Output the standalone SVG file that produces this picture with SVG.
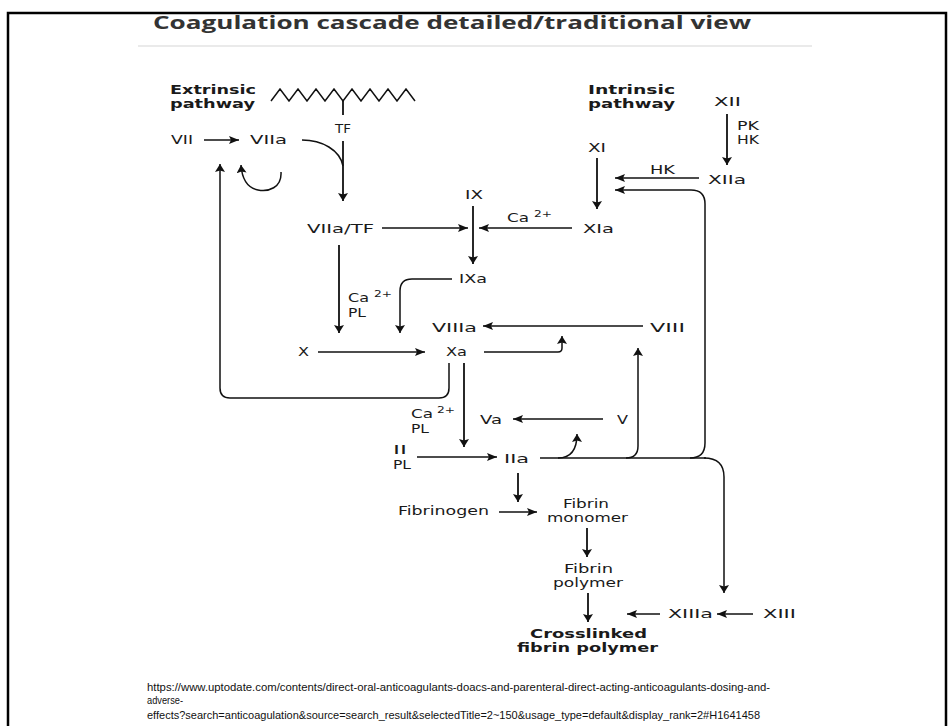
<svg xmlns="http://www.w3.org/2000/svg" width="952" height="726" viewBox="0 0 952 726">
<style>
.t{font-family:"DejaVu Sans","Liberation Sans",sans-serif;font-size:12px;fill:#1a1a1a}
.b{font-weight:bold}
.sup{font-family:"DejaVu Sans","Liberation Sans",sans-serif;font-size:9px;fill:#1a1a1a}
.c{fill:none;stroke:#111;stroke-width:1.5}
.v{stroke-width:1.8}
.u{font-family:"Liberation Sans",Arial,sans-serif;font-size:11px;fill:#111}
</style>
<defs>
<marker id="ah" viewBox="0 0 10 8" refX="10" refY="4" markerWidth="10" markerHeight="8" markerUnits="userSpaceOnUse" orient="auto"><path d="M0,0 L10,4 L0,8 L2,4 z" fill="#111"/></marker>
<marker id="av" viewBox="0 0 8 10" refX="8" refY="5" markerWidth="8" markerHeight="10" markerUnits="userSpaceOnUse" orient="auto"><path d="M0,0 L8,5 L0,10 L1.5,5 z" fill="#111"/></marker>
</defs>
<rect width="952" height="726" fill="#fff"/>
<path d="M8,726 V13 H946 V726" fill="none" stroke="#000" stroke-width="2.5"/>
<text x="153" y="29" textLength="598" lengthAdjust="spacingAndGlyphs" style="font-family:'Open Sans','Noto Sans',sans-serif;font-weight:bold;font-size:17px;fill:#333">Coagulation cascade detailed/traditional view</text>
<line x1="138" y1="46" x2="812" y2="46" stroke="#e3e3e3" stroke-width="1.5"/>

<g id="extrinsic"><text class="t b" x="170" y="94" textLength="86" lengthAdjust="spacingAndGlyphs">Extrinsic</text><text class="t b" x="170" y="108" textLength="85" lengthAdjust="spacingAndGlyphs">pathway</text></g>
<g id="membrane"><polyline class="c" points="271,101 280,89 289,101 298,89 307,101 316,89 325,101 334,89 343,101 352,89 361,101 370,89 379,101 388,89 397,101 406,89 415,101"/><line class="c v" x1="343" y1="101" x2="343" y2="115"/></g>
<g id="tf"><text class="t" x="335" y="133" textLength="16" lengthAdjust="spacingAndGlyphs">TF</text></g>
<g id="vii"><text class="t" x="171" y="144" textLength="22" lengthAdjust="spacingAndGlyphs">VII</text></g>
<g id="viia"><text class="t" x="250" y="144" textLength="37" lengthAdjust="spacingAndGlyphs">VIIa</text></g>
<g id="intrinsic"><text class="t b" x="588" y="94" textLength="87" lengthAdjust="spacingAndGlyphs">Intrinsic</text><text class="t b" x="588" y="108" textLength="87" lengthAdjust="spacingAndGlyphs">pathway</text></g>
<g id="xii"><text class="t" x="714" y="106" textLength="27" lengthAdjust="spacingAndGlyphs">XII</text></g>
<g id="pkhk"><text class="t" x="737" y="130" textLength="22" lengthAdjust="spacingAndGlyphs">PK</text><text class="t" x="737" y="144" textLength="22" lengthAdjust="spacingAndGlyphs">HK</text></g>
<g id="xi"><text class="t" x="588" y="152" textLength="18" lengthAdjust="spacingAndGlyphs">XI</text></g>
<g id="hk"><text class="t" x="650" y="174" textLength="25" lengthAdjust="spacingAndGlyphs">HK</text></g>
<g id="xiia"><text class="t" x="708" y="184" textLength="38" lengthAdjust="spacingAndGlyphs">XIIa</text></g>
<g id="ix"><text class="t" x="465" y="199" textLength="18" lengthAdjust="spacingAndGlyphs">IX</text></g>
<g id="viiatf"><text class="t" x="307" y="233" textLength="67" lengthAdjust="spacingAndGlyphs">VIIa/TF</text></g>
<g id="ca1"><text class="t" x="507" y="222" textLength="22" lengthAdjust="spacingAndGlyphs">Ca</text><text class="sup" x="534" y="217" textLength="18" lengthAdjust="spacingAndGlyphs">2+</text></g>
<g id="xia"><text class="t" x="583" y="233" textLength="31" lengthAdjust="spacingAndGlyphs">XIa</text></g>
<g id="ixa"><text class="t" x="459" y="283" textLength="28" lengthAdjust="spacingAndGlyphs">IXa</text></g>
<g id="ca2"><text class="t" x="348" y="302" textLength="21" lengthAdjust="spacingAndGlyphs">Ca</text><text class="sup" x="374" y="297" textLength="18" lengthAdjust="spacingAndGlyphs">2+</text><text class="t" x="348" y="317" textLength="18" lengthAdjust="spacingAndGlyphs">PL</text></g>
<g id="viiia"><text class="t" x="432" y="332" textLength="45" lengthAdjust="spacingAndGlyphs">VIIIa</text></g>
<g id="viii"><text class="t" x="650" y="332" textLength="35" lengthAdjust="spacingAndGlyphs">VIII</text></g>
<g id="x"><text class="t" x="298" y="356" textLength="11" lengthAdjust="spacingAndGlyphs">X</text></g>
<g id="xa"><text class="t" x="446" y="356" textLength="21" lengthAdjust="spacingAndGlyphs">Xa</text></g>
<g id="ca3"><text class="t" x="411" y="418" textLength="22" lengthAdjust="spacingAndGlyphs">Ca</text><text class="sup" x="437" y="413" textLength="18" lengthAdjust="spacingAndGlyphs">2+</text><text class="t" x="411" y="433" textLength="18" lengthAdjust="spacingAndGlyphs">PL</text></g>
<g id="va"><text class="t" x="480" y="424" textLength="22" lengthAdjust="spacingAndGlyphs">Va</text></g>
<g id="v"><text class="t" x="617" y="424" textLength="11" lengthAdjust="spacingAndGlyphs">V</text></g>
<g id="ii"><text class="t" x="393" y="454" textLength="14" lengthAdjust="spacingAndGlyphs">II</text><text class="t" x="393" y="469" textLength="18" lengthAdjust="spacingAndGlyphs">PL</text></g>
<g id="iia"><text class="t" x="504" y="463" textLength="25" lengthAdjust="spacingAndGlyphs">IIa</text></g>
<g id="fibrinogen"><text class="t" x="398" y="515" textLength="91" lengthAdjust="spacingAndGlyphs">Fibrinogen</text></g>
<g id="monomer"><text class="t" x="563" y="508" textLength="46" lengthAdjust="spacingAndGlyphs">Fibrin</text><text class="t" x="547" y="522" textLength="81" lengthAdjust="spacingAndGlyphs">monomer</text></g>
<g id="polymer"><text class="t" x="564" y="573" textLength="49" lengthAdjust="spacingAndGlyphs">Fibrin</text><text class="t" x="553" y="587" textLength="70" lengthAdjust="spacingAndGlyphs">polymer</text></g>
<g id="crosslinked"><text class="t b" x="530" y="638" textLength="117" lengthAdjust="spacingAndGlyphs">Crosslinked</text><text class="t b" x="517" y="652" textLength="141" lengthAdjust="spacingAndGlyphs">fibrin polymer</text></g>
<g id="xiiia"><text class="t" x="668" y="618" textLength="45" lengthAdjust="spacingAndGlyphs">XIIIa</text></g>
<g id="xiii"><text class="t" x="763" y="618" textLength="33" lengthAdjust="spacingAndGlyphs">XIII</text></g>

<g id="connectors">
<path class="c" d="M204,140 H239" marker-end="url(#ah)"/>
<path class="c v" d="M343,141 V201" marker-end="url(#av)"/>
<path class="c" d="M302,140 C322,140 340,150 343,166"/>
<path class="c" d="M281,172 C282,188 268,192 258,190 C248,188 242,179 241,165" marker-end="url(#av)"/>
<path class="c" d="M449,363 V388 Q449,398 439,398 H230 Q220,398 220,388 V164" marker-end="url(#av)"/>
<path class="c v" d="M727,114 V165" marker-end="url(#av)"/>
<path class="c v" d="M597,158 V209" marker-end="url(#av)"/>
<path class="c" d="M699,178 H615" marker-end="url(#ah)"/>
<path class="c" d="M690,458 Q705,458 705,443 V204 Q705,190 691,190 H615" marker-end="url(#ah)"/>
<path class="c" d="M540,458 H706"/>
<path class="c" d="M626,458 Q638,458 638,446 V348" marker-end="url(#av)"/>
<path class="c" d="M558,458 C570,458 577,450 577,434" marker-end="url(#av)"/>
<path class="c" d="M704,458 Q724,458 724,477 V593" marker-end="url(#av)"/>
<path class="c" d="M382,228 H468" marker-end="url(#ah)"/>
<path class="c" d="M572,228 H479" marker-end="url(#ah)"/>
<path class="c v" d="M473,206 V264" marker-end="url(#av)"/>
<path class="c v" d="M339,245 V333" marker-end="url(#av)"/>
<path class="c" d="M452,279 H412 Q400,279 400,291 V333" marker-end="url(#av)"/>
<path class="c" d="M643,326 H483" marker-end="url(#ah)"/>
<path class="c" d="M318,352 H425" marker-end="url(#ah)"/>
<path class="c" d="M484,352 H558 Q562,352 562,348 V336" marker-end="url(#av)"/>
<path class="c v" d="M464,363 V447" marker-end="url(#av)"/>
<path class="c" d="M603,419 H513" marker-end="url(#ah)"/>
<path class="c" d="M417,457 H497" marker-end="url(#ah)"/>
<path class="c v" d="M518,473 V502" marker-end="url(#av)"/>
<path class="c" d="M499,512 H537" marker-end="url(#ah)"/>
<path class="c v" d="M587,528 V557" marker-end="url(#av)"/>
<path class="c v" d="M588,593 V622" marker-end="url(#av)"/>
<path class="c" d="M660,614 H627" marker-end="url(#ah)"/>
<path class="c" d="M753,614 H717" marker-end="url(#ah)"/>
</g>

<g id="source">
<text class="u" x="147" y="691" textLength="623" lengthAdjust="spacingAndGlyphs">https://www.uptodate.com/contents/direct-oral-anticoagulants-doacs-and-parenteral-direct-acting-anticoagulants-dosing-and-</text>
<text class="u" x="147" y="704" textLength="36" lengthAdjust="spacingAndGlyphs">adverse-</text>
<text class="u" x="147" y="719" textLength="613" lengthAdjust="spacingAndGlyphs">effects?search=anticoagulation&amp;source=search_result&amp;selectedTitle=2~150&amp;usage_type=default&amp;display_rank=2#H1641458</text>
</g>
</svg>
